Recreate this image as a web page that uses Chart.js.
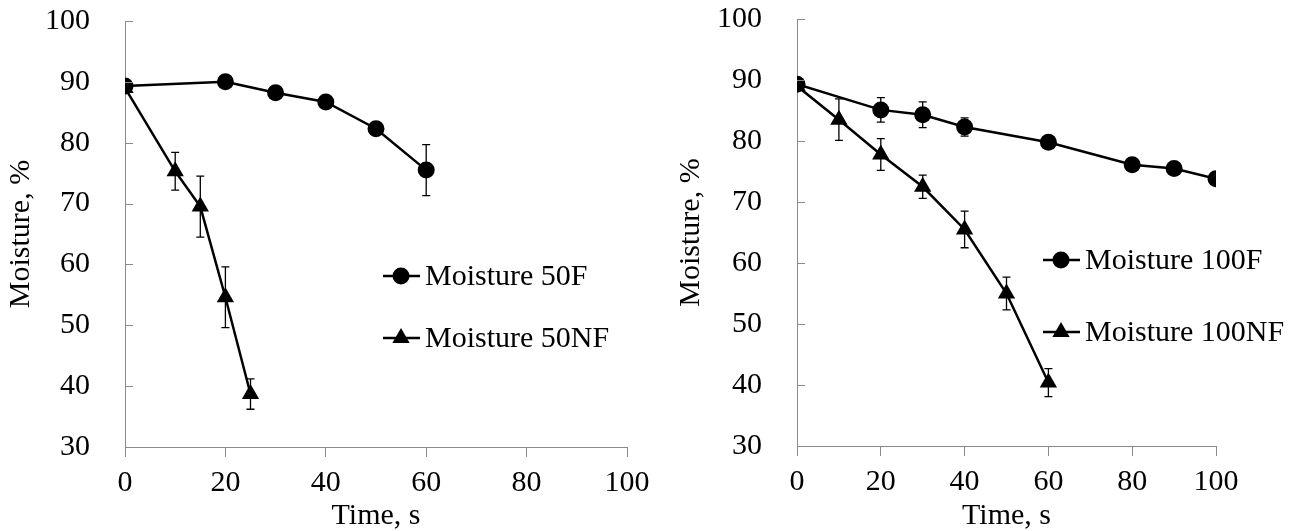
<!DOCTYPE html>
<html>
<head>
<meta charset="utf-8">
<script src="https://cdn.jsdelivr.net/npm/chart.js@4.4.1/dist/chart.umd.min.js"></script>
<style>
  body { margin: 0; background: #fff; }
  .chart-box { position: absolute; top: 0; height: 531px; }
  #box-left { left: 0; width: 650px; }
  #box-right { left: 650px; width: 651px; }
</style>
</head>
<body>
<div id="box-left" class="chart-box"><canvas id="chart-left"></canvas></div>
<div id="box-right" class="chart-box"><canvas id="chart-right"></canvas></div>
<script>
/* -------------  DATA  ------------- */

const xTicks = [0, 20, 40, 60, 80, 100];
const yTicks = [30, 40, 50, 60, 70, 80, 90, 100];

const time50F = [0, 20, 30, 40, 50, 60];
const moisture50F = [89.3, 90.0, 88.2, 86.7, 82.3, 75.5];
const err50F = [0, 0, 0, 0, 0, 4.2];

const time50NF = [0, 10, 15, 20, 25];
const moisture50NF = [89.0, 75.3, 69.5, 54.6, 38.7];
const err50NF = [0, 3.1, 5.0, 5.0, 2.5];

const time100F = [0, 20, 30, 40, 60, 80, 90, 100];
const moisture100F = [89.3, 85.1, 84.3, 82.3, 79.8, 76.1, 75.5, 73.8];
const err100F = [0, 2.0, 2.1, 1.5, 0, 0, 0, 0];

const time100NF = [0, 10, 20, 30, 40, 50, 60];
const moisture100NF = [89.0, 83.5, 77.8, 72.5, 65.5, 55.0, 40.4];
const err100NF = [0, 3.4, 2.6, 1.9, 3.0, 2.7, 2.3];

const FONT = "'Liberation Serif', 'Times New Roman', serif";
const AXIS_GREY = '#8a8a8a';

/* -------------  HELPERS  ------------- */

/**
 * Zips x and y arrays into point objects.
 */
function toPoints(xs, ys) {
  return xs.map((x, i) => ({ x: x, y: ys[i] }));
}

/**
 * Draws a filled marker (circle or triangle) at x/y.
 */
function drawMarker(ctx, style, x, y, r) {
  ctx.beginPath();
  if (style === 'circle') {
    ctx.arc(x, y, r, 0, Math.PI * 2);
  } else {
    ctx.moveTo(x, y - r);
    ctx.lineTo(x + r * Math.sin(Math.PI * 2 / 3), y + r / 2);
    ctx.lineTo(x - r * Math.sin(Math.PI * 2 / 3), y + r / 2);
    ctx.closePath();
  }
  ctx.fillStyle = '#000';
  ctx.fill();
}

/**
 * Drops the label overflow padding so layout.padding alone places the plot.
 */
function clearScalePadding(scale) {
  scale.paddingTop = 0;
  scale.paddingBottom = 0;
  scale.paddingLeft = 0;
  scale.paddingRight = 0;
}

/* -------------  PLUGINS  ------------- */

const errorBarPlugin = {
  id: 'errorBars',
  beforeDatasetsDraw(chart, args, opts) {
    const ctx = chart.ctx;
    const xScale = chart.scales.x;
    const yScale = chart.scales.y;
    ctx.save();
    ctx.strokeStyle = '#000';
    ctx.lineWidth = 1.3;
    chart.data.datasets.forEach((ds, d) => {
      const errs = opts.sets[d];
      ds.data.forEach((p, i) => {
        if (!errs[i]) return;
        const px = xScale.getPixelForValue(p.x);
        const top = yScale.getPixelForValue(p.y + errs[i]);
        const bot = yScale.getPixelForValue(p.y - errs[i]);
        ctx.beginPath();
        ctx.moveTo(px, top); ctx.lineTo(px, bot);
        ctx.moveTo(px - 4, top); ctx.lineTo(px + 4, top);
        ctx.moveTo(px - 4, bot); ctx.lineTo(px + 4, bot);
        ctx.stroke();
      });
    });
    ctx.restore();
  },
  afterDraw(chart) {
    // small inward tick marks on the value axis
    const ctx = chart.ctx;
    const yScale = chart.scales.y;
    const left = chart.chartArea.left;
    ctx.save();
    ctx.strokeStyle = AXIS_GREY;
    ctx.lineWidth = 1;
    yScale.ticks.forEach((t) => {
      const py = Math.round(yScale.getPixelForValue(t.value)) + 0.5;
      ctx.beginPath();
      ctx.moveTo(left, py);
      ctx.lineTo(left + 8, py);
      ctx.stroke();
    });
    ctx.restore();
  },
};

const legendPlugin = {
  id: 'sideLegend',
  afterDraw(chart, args, opts) {
    const ctx = chart.ctx;
    ctx.save();
    ctx.font = '30px ' + FONT;
    ctx.textBaseline = 'middle';
    ctx.textAlign = 'left';
    opts.items.forEach((item) => {
      ctx.strokeStyle = '#000';
      ctx.lineWidth = 2.5;
      ctx.beginPath();
      ctx.moveTo(opts.x, item.y);
      ctx.lineTo(opts.x + 37, item.y);
      ctx.stroke();
      drawMarker(ctx, item.style, opts.x + 18, item.y, item.style === 'circle' ? 8.5 : 10);
      ctx.fillStyle = '#000';
      ctx.fillText(item.text, opts.x + 42, item.y + 1);
    });
    ctx.restore();
  },
};

/* -------------  CHARTS  ------------- */

/**
 * Builds one moisture chart.
 */
function makeChart(canvasId, series, frame) {
  const datasets = series.map((s) => ({
    label: s.label,
    data: toPoints(s.x, s.y),
    showLine: true,
    borderColor: '#000',
    borderWidth: 2.5,
    backgroundColor: '#000',
    pointStyle: s.style,
    pointRadius: s.style === 'circle' ? 8.5 : 10,
    pointBackgroundColor: '#000',
    pointBorderColor: '#000',
    pointBorderWidth: 0,
  }));

  return new Chart(document.getElementById(canvasId), {
    type: 'scatter',
    data: { datasets: datasets },
    plugins: [errorBarPlugin, legendPlugin],
    options: {
      responsive: true,
      maintainAspectRatio: false,
      animation: false,
      events: [],
      layout: { padding: { top: frame.top, right: frame.right, left: 0, bottom: 0 } },
      scales: {
        x: {
          type: 'linear',
          min: 0,
          max: 100,
          afterBuildTicks: (scale) => { scale.ticks = xTicks.map((v) => ({ value: v })); },
          afterFit: (scale) => { scale.height = frame.xHeight; clearScalePadding(scale); },
          grid: { drawOnChartArea: false, drawTicks: true, tickLength: 10, color: AXIS_GREY },
          border: { display: true, color: AXIS_GREY, width: 1 },
          ticks: { color: '#000', padding: 8, font: { family: FONT, size: 30, lineHeight: 1.2 } },
          title: {
            display: true,
            text: 'Time, s',
            color: '#000',
            padding: { top: 0, bottom: 0 },
            font: { family: FONT, size: 30, lineHeight: 1.0 },
          },
        },
        y: {
          type: 'linear',
          min: 30,
          max: 100,
          afterBuildTicks: (scale) => { scale.ticks = yTicks.map((v) => ({ value: v })); },
          afterFit: (scale) => { scale.width = frame.yWidth; clearScalePadding(scale); },
          grid: { display: false },
          border: { display: true, color: AXIS_GREY, width: 1 },
          ticks: { color: '#000', padding: 27, font: { family: FONT, size: 30, lineHeight: 1.2 } },
          title: {
            display: true,
            text: 'Moisture, %',
            color: '#000',
            padding: { top: frame.titlePad, bottom: 0 },
            font: { family: FONT, size: 30, lineHeight: 1.2 },
          },
        },
      },
      plugins: {
        legend: { display: false },
        tooltip: { enabled: false },
        errorBars: { sets: series.map((s) => s.err) },
        sideLegend: {
          x: frame.legendX,
          items: series.map((s, i) => ({ text: s.label, style: s.style, y: frame.legendY[i] })),
        },
      },
    },
  });
}

makeChart(
  'chart-left',
  [
    { label: 'Moisture 50F', x: time50F, y: moisture50F, err: err50F, style: 'circle' },
    { label: 'Moisture 50NF', x: time50NF, y: moisture50NF, err: err50NF, style: 'triangle' },
  ],
  { top: 21, right: 23, xHeight: 84, yWidth: 125, titlePad: 3, legendX: 383, legendY: [276, 338] }
);

makeChart(
  'chart-right',
  [
    { label: 'Moisture 100F', x: time100F, y: moisture100F, err: err100F, style: 'circle' },
    { label: 'Moisture 100NF', x: time100NF, y: moisture100NF, err: err100NF, style: 'triangle' },
  ],
  { top: 19, right: 85, xHeight: 85, yWidth: 147, titlePad: 23, legendX: 393, legendY: [260, 332] }
);
</script>
</body>
</html>
